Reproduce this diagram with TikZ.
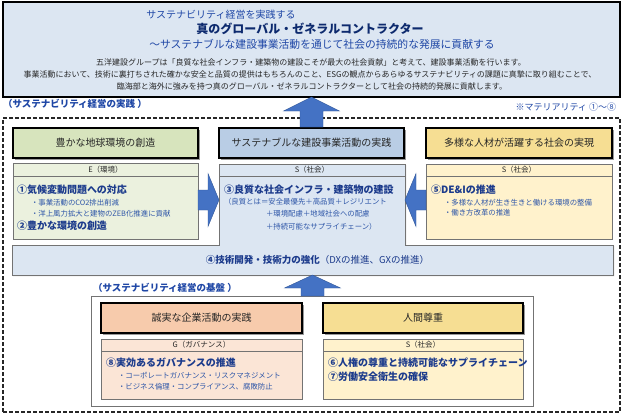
\documentclass[tikz,border=0pt]{standalone}
\usepackage{fontspec}
\setmainfont{Noto Sans CJK JP}
\usetikzlibrary{shadows,calc}
\newcommand\myfs[1]{\fontsize{#1}{#1}\selectfont}
\definecolor{topfill}{HTML}{DCE6F2}
\definecolor{tblue}{HTML}{1F47A6}
\definecolor{navy}{HTML}{0D2A6E}
\definecolor{itemblue}{HTML}{1C3B8C}
\definecolor{smallblue}{HTML}{2E56A8}
\definecolor{hdrtext}{HTML}{262626}
\definecolor{arrowblue}{HTML}{4472C4}
\definecolor{arrowedge}{HTML}{2F5597}
\definecolor{greenH}{HTML}{D7E4BD}
\definecolor{greenS}{HTML}{EBF1DE}
\definecolor{blueH}{HTML}{B9CDE5}
\definecolor{blueS}{HTML}{DCE6F2}
\definecolor{yellowH}{HTML}{F6DE93}
\definecolor{yellowS}{HTML}{FFF2CC}
\definecolor{orangeH}{HTML}{F7CBAC}
\definecolor{orangeS}{HTML}{FBE5D6}
\begin{document}
\begin{tikzpicture}[x=1pt,y=-1pt,
  every node/.style={inner sep=0pt, outer sep=0pt},
  box/.style={anchor=north west, inner sep=0pt},
  hdr/.style={box, draw=black, line width=1.5pt, minimum height=30pt, font=\myfs{10}, text=hdrtext,
    drop shadow={shadow xshift=1.5pt, shadow yshift=-1.5pt, fill=black!40, opacity=1}},
  subbox/.style={box, draw=black!55, line width=0.8pt,
    drop shadow={shadow xshift=1.2pt, shadow yshift=-1.2pt, fill=black!30, opacity=1}},
  stripline/.style={draw=black!55, line width=0.8pt},
  striptext/.style={font=\myfs{7.5}, text=hdrtext},
  item/.style={anchor=west, font=\bfseries\myfs{10}, text=itemblue},
  smalltext/.style={anchor=west, font=\myfs{7.4}, text=smallblue},
  bodytext/.style={font=\myfs{8}, text=black!85},
  sectlabel/.style={anchor=west, font=\bfseries\myfs{9.5}, text=tblue},
  blockarrow/.style={fill=arrowblue, draw=arrowedge, line width=0.4pt}
]
\useasboundingbox (0,0) rectangle (624,416);
\fill[white] (0,0) rectangle (624,416);

% top box
\node[box, draw=black, line width=2pt, fill=topfill, minimum width=617pt, minimum height=95pt] (top) at (3,2) {};
\node[font=\myfs{10}, text=tblue] (t1) at (221,15) {サステナビリティ経営を実践する};
\node[font=\bfseries\myfs{12}, text=navy] (t2) at (310,29) {真のグローバル・ゼネラルコントラクター};
\node[font=\myfs{10.8}, text=tblue] (t3) at (322,44) {～サステナブルな建設事業活動を通じて社会の持続的な発展に貢献する};
\node[bodytext] (l1) at (311,62) {五洋建設グループは「良質な社会インフラ・建築物の建設こそが最大の社会貢献」と考えて、建設事業活動を行います。};
\node[bodytext] (l2) at (310,74) {事業活動において、技術に裏打ちされた確かな安全と品質の提供はもちろんのこと、ESGの観点からあらゆるサステナビリティの課題に真摯に取り組むことで、};
\node[bodytext] (l3) at (312,86) {臨海部と海外に強みを持つ真のグローバル・ゼネラルコントラクターとして社会の持続的発展に貢献します。};

% labels
\node[sectlabel] (lab1) at (3,104) {（サステナビリティ経営の実践 ）};
\node[anchor=east, font=\myfs{9}, text=tblue] (mat) at (616,107) {※マテリアリティ ①～⑧};

% dashed outer
\node[box, draw=black!85, line width=1.3pt, dash pattern=on 4pt off 2pt, minimum width=617pt, minimum height=294pt] (outer) at (3,118) {};

% headers
\node[hdr, fill=greenH, minimum width=185pt] (lh) at (13,128) {豊かな地球環境の創造};
\node[hdr, fill=blueH, minimum width=185pt] (mh) at (219,128) {サステナブルな建設事業活動の実践};
\node[hdr, fill=yellowH, minimum width=186pt] (rh) at (426,128) {多様な人材が活躍する社会の実現};

% sub boxes
\node[subbox, fill=greenS, minimum width=185pt, minimum height=76pt] (ls) at (13,163) {};
\node[subbox, fill=yellowS, minimum width=186pt, minimum height=75pt] (rs) at (426,164) {};
\node[box, minimum width=186pt, minimum height=81pt] (ms) at (219,164) {};
\node[box, minimum width=601pt, minimum height=30pt] (band) at (12,245) {};
\begin{scope}[transform canvas={shift={(1.2pt,-1.2pt)}}]
\fill[black!30] (ms.north west) -- (ms.south west) -- (band.north west) -- (band.south west) -- (band.south east) -- (band.north east) -- (ms.south east) -- (ms.north east) -- cycle;
\end{scope}
\filldraw[fill=blueS, draw=black!55, line width=0.8pt] (ms.north west) -- (ms.south west) -- (band.north west) -- (band.south west) -- (band.south east) -- (band.north east) -- (ms.south east) -- (ms.north east) -- cycle;

\draw[stripline] ($(ls.north west)+(0,13)$) -- ($(ls.north east)+(0,13)$);
\draw[stripline] ($(ms.north west)+(0,12)$) -- ($(ms.north east)+(0,12)$);
\draw[stripline] ($(rs.north west)+(0,12)$) -- ($(rs.north east)+(0,12)$);
\node[striptext] (lsl) at ($(ls.north)+(0,6.5)$) {E（環境）};
\node[striptext] (msl) at ($(ms.north)+(0,6)$) {S（社会）};
\node[striptext] (rsl) at ($(rs.north)+(0,6)$) {S（社会）};

% left sub texts
\node[item] (i1) at (17,190) {①気候変動問題への対応};
\node[smalltext] (i1a) at (31,203) {・事業活動のCO2排出削減};
\node[smalltext] (i1b) at (31,214) {・洋上風力拡大と建物のZEB化推進に貢献};
\node[item] (i2) at (17,226) {②豊かな環境の創造};
% middle
\node[item] (i3) at (224,190) {③良質な社会インフラ・建築物の建設};
\node[smalltext] (i3a) at (224,202) {（良質とは＝安全最優先＋高品質＋レジリエント};
\node[smalltext] (i3b) at (266,214) {＋環境配慮＋地域社会への配慮};
\node[smalltext] (i3c) at (266,227) {＋持続可能なサプライチェーン）};
% right
\node[item] (i5) at (431,190) {⑤DE\&Iの推進};
\node[smalltext] (i5a) at (444,203) {・多様な人材が生き生きと働ける環境の整備};
\node[smalltext] (i5b) at (444,213) {・働き方改革の推進};
% band
\node[font=\myfs{9.5}, text=itemblue] (i4) at ($(band.center)+(5,0)$) {\textbf{④技術開発・技術力の強化}（DXの推進、GXの推進）};

% arrows
\draw[blockarrow] (mh.north |- top.south) -- ++(28,14) -- ++(-16.5,0) -- ++(0,16) -- ++(-23,0) -- ++(0,-16) -- ++(-16.5,0) -- cycle;
\draw[blockarrow] ($(ms.north west)+(0,36)$) -- ++(-11,-26.5) -- ++(0,16.5) -- ++(-10,0) -- ++(0,20) -- ++(10,0) -- ++(0,16.5) -- cycle;
\draw[blockarrow] ($(ms.north east)+(0,36)$) -- ++(11,-26.5) -- ++(0,16.5) -- ++(10,0) -- ++(0,20) -- ++(-10,0) -- ++(0,16.5) -- cycle;

% foundation
\node[sectlabel] (lab2) at (93,288) {（サステナビリティ経営の基盤 ）};
\node[subbox, fill=white, minimum width=442pt, minimum height=110pt] (fb) at (91,296) {};
\draw[blockarrow] (band.south) -- ++(28,13) -- ++(-16.5,0) -- ++(0,8) -- ++(-23,0) -- ++(0,-8) -- ++(-16.5,0) -- cycle;
\node[hdr, fill=orangeH, minimum width=201pt] (gh) at (101,303) {誠実な企業活動の実践};
\node[hdr, fill=yellowH, minimum width=200pt] (hh) at (323,303) {人間尊重};
\node[subbox, fill=orangeS, minimum width=201pt, minimum height=60pt] (gs) at (101,339) {};
\node[subbox, fill=yellowS, minimum width=200pt, minimum height=60pt] (hs) at (323,339) {};
\draw[stripline] ($(gs.north west)+(0,12)$) -- ($(gs.north east)+(0,12)$);
\draw[stripline] ($(hs.north west)+(0,12)$) -- ($(hs.north east)+(0,12)$);
\node[striptext] (gsl) at ($(gs.north)+(0,6)$) {G（ガバナンス）};
\node[striptext] (hsl) at ($(hs.north)+(0,6)$) {S（社会）};
\node[item] (i8) at (106,363) {⑧実効あるガバナンスの推進};
\node[smalltext] (i8a) at (118,376) {・コーポレートガバナンス・リスクマネジメント};
\node[smalltext] (i8b) at (118,387) {・ビジネス倫理・コンプライアンス、腐敗防止};
\node[item] (i6) at (328,363) {⑥人権の尊重と持続可能なサプライチェーン};
\node[item] (i7) at (328,377) {⑦労働安全衛生の確保};
\end{tikzpicture}
\end{document}
